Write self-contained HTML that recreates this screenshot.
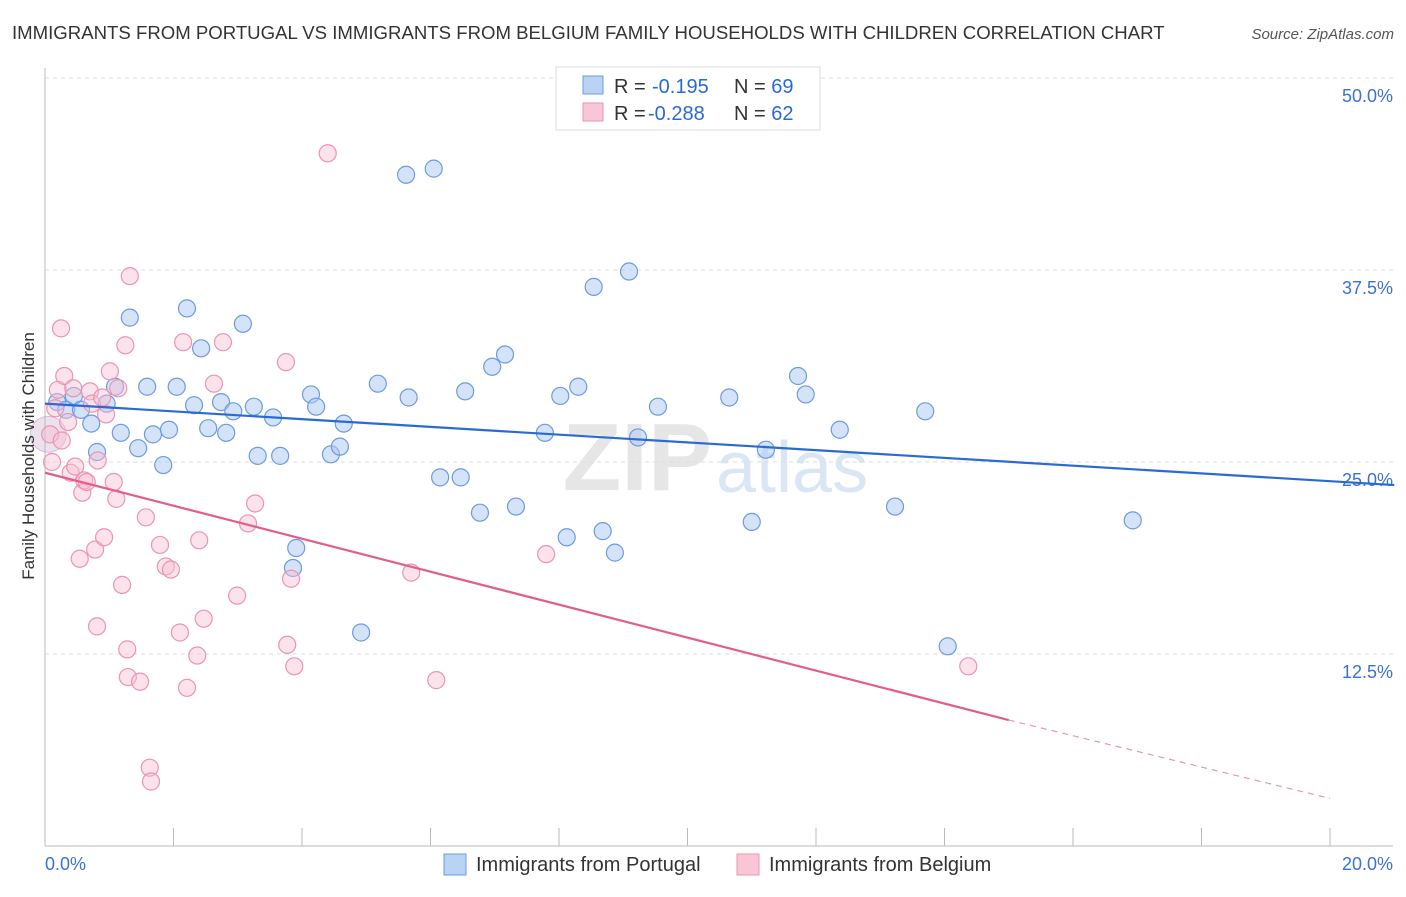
<!DOCTYPE html>
<html><head><meta charset="utf-8"><style>
body{margin:0;background:#fff;font-family:"Liberation Sans",sans-serif}
svg text{font-family:"Liberation Sans",sans-serif}
</style></head><body>
<svg id="c" width="1406" height="892" xmlns="http://www.w3.org/2000/svg">
<text x="12" y="39" font-size="18.6" fill="#333">IMMIGRANTS FROM PORTUGAL VS IMMIGRANTS FROM BELGIUM FAMILY HOUSEHOLDS WITH CHILDREN CORRELATION CHART</text>
<text x="1394" y="39" font-size="15" fill="#555" text-anchor="end" font-style="italic">Source: ZipAtlas.com</text>
<text x="712" y="490" font-size="96" fill="#e6e6e6" text-anchor="end" font-family="Liberation Serif" font-weight="bold">ZIP</text>
<text x="716" y="492" font-size="72" fill="#dbe6f5">atlas</text>
<g id="grid"></g><g id="axes"></g><g id="pts"></g><g id="trend"></g>
<text transform="translate(34,456) rotate(-90)" font-size="17" fill="#333" text-anchor="middle">Family Households with Children</text>
<rect x="556" y="67" width="264" height="63" fill="#fff" stroke="#ddd"/>
<rect x="583" y="76" width="20" height="18" fill="#b9d3f5" stroke="#6c9be0"/>
<rect x="583" y="103" width="20" height="18" fill="#f9c6d6" stroke="#e995b2"/>
<text x="614" y="93" font-size="20" fill="#333">R = <tspan x="652" fill="#2a6ad6">-0.195</tspan><tspan x="734">N = </tspan><tspan fill="#2a6ad6">69</tspan></text>
<text x="614" y="120" font-size="20" fill="#333">R = <tspan x="648" fill="#2a6ad6">-0.288</tspan><tspan x="734">N = </tspan><tspan fill="#2a6ad6">62</tspan></text>
<rect x="444" y="854" width="22" height="21" fill="#b9d3f5" stroke="#6c9be0"/>
<text x="476" y="871" font-size="20" fill="#333">Immigrants from Portugal</text>
<rect x="737" y="854" width="22" height="21" fill="#f9c6d6" stroke="#e995b2"/>
<text x="769" y="871" font-size="20" fill="#333">Immigrants from Belgium</text>
</svg>
<script>
const blueX=[0.19,0.33,0.45,0.56,0.72,0.81,0.96,1.09,1.18,1.32,1.45,1.59,1.68,1.84,1.93,2.05,2.21,2.32,2.43,2.54,2.74,2.82,2.93,3.08,3.25,3.31,3.55,3.66,3.86,3.91,4.14,4.22,4.45,4.59,4.65,4.92,5.18,5.62,5.66,6.05,6.15,6.47,6.54,6.77,6.96,7.16,7.33,7.78,8.02,8.12,8.30,8.54,8.68,8.87,9.09,9.23,9.54,10.65,11.00,11.22,11.72,11.84,12.37,13.23,13.70,14.05,16.93];
const blueY=[28.9,28.4,29.3,28.4,27.5,25.65,28.8,29.9,26.9,34.4,25.9,29.9,26.8,24.8,27.1,29.9,35.0,28.7,32.4,27.2,28.9,26.9,28.3,34.0,28.6,25.4,27.9,25.4,18.1,19.4,29.4,28.6,25.5,26.0,27.5,13.9,30.1,43.7,29.2,44.1,24.0,24.0,29.6,21.7,31.2,32.0,22.1,26.9,29.3,20.1,29.9,36.4,20.5,19.1,37.4,26.6,28.6,29.2,21.1,25.8,30.6,29.4,27.1,22.1,28.3,13.0,21.2];
const pinkX=[0.08,0.11,0.16,0.2,0.25,0.26,0.3,0.36,0.4,0.44,0.47,0.54,0.58,0.61,0.65,0.7,0.73,0.78,0.81,0.82,0.89,0.92,0.95,1.01,1.07,1.11,1.14,1.2,1.25,1.28,1.29,1.32,1.48,1.57,1.63,1.65,1.79,1.88,1.96,2.1,2.15,2.21,2.37,2.4,2.47,2.63,2.77,2.99,3.16,3.27,3.77,3.75,3.83,3.88,4.4,5.7,6.09,7.8,14.37];
const pinkY=[26.8,25.0,28.5,29.7,33.7,26.4,30.6,27.6,24.3,29.8,24.7,18.7,23.0,23.8,23.7,29.6,28.8,19.3,14.3,25.1,29.2,20.1,28.1,30.9,23.7,22.6,29.8,17.0,32.6,12.8,11.0,37.1,10.7,21.4,5.1,4.2,19.6,18.2,18.0,13.9,32.8,10.3,12.4,19.9,14.8,30.1,32.8,16.3,21.0,22.3,13.1,31.5,17.4,11.7,45.1,17.8,10.8,19.0,11.7];
const blueTrend=[[0,28.8],[21,23.5]];
const pinkTrend=[[0,24.3],[15.0,8.2]];
const pinkDash=[[15.0,8.2],[20,3.1]];
const yTicks=[12.5,25,37.5,50];
const xTicks=[0,2,4,6,8,10,12,14,16,18,20];
const X=v=>45+v/20*1285, Y=v=>846-v/12.5*192;
const NS='http://www.w3.org/2000/svg';
function mk(p,t,a){const e=document.createElementNS(NS,t);for(const k in a)e.setAttribute(k,a[k]);p.appendChild(e);return e;}
const g=document.getElementById('grid'),ax=document.getElementById('axes'),pts=document.getElementById('pts'),tr=document.getElementById('trend');
yTicks.forEach(v=>{
 const l=mk(g,'line',{x1:45,x2:1393,y1:Y(v),y2:Y(v),stroke:'#ddd','stroke-dasharray':'4,4'});
 
 
 const t=mk(g,'text',{x:1393,y:Y(v)+24,'font-size':18,fill:'#3a72d0','text-anchor':'end'});t.textContent=v.toFixed(1)+'%';
 
 
});
const a1=mk(ax,'line',{x1:45,x2:45,y1:68,y2:846,stroke:'#bbb'});


const a2=mk(ax,'line',{x1:45,x2:1393,y1:846,y2:846,stroke:'#bbb'});


xTicks.forEach(v=>{
 const l=mk(ax,'line',{x1:X(v),x2:X(v),y1:828,y2:846,stroke:'#bbb'});
 
 
});
[[0,'start',45],[20,'end',1393]].forEach(([v,an,px])=>{
 const t=mk(ax,'text',{x:px,y:870,'font-size':18,fill:'#3a72d0','text-anchor':an});t.textContent=v.toFixed(1)+'%';
 
 
});
const big1=mk(pts,'circle',{cx:X(0.05),cy:Y(26.8),r:18,fill:'rgba(200,170,200,0.35)',stroke:'rgba(180,140,190,0.5)'});


blueX.forEach((x,i)=>{
 const c=mk(pts,'circle',{cx:X(x),cy:Y(blueY[i]),r:8.5,fill:'rgba(170,200,240,0.5)',stroke:'#6c9be0','stroke-width':1.2});
 
 
});
pinkX.forEach((x,i)=>{
 const c=mk(pts,'circle',{cx:X(x),cy:Y(pinkY[i]),r:8.5,fill:'rgba(248,190,210,0.45)',stroke:'#e995b2','stroke-width':1.2});
 
 
});
const b=mk(tr,'line',{x1:X(blueTrend[0][0]),y1:Y(blueTrend[0][1]),x2:X(blueTrend[1][0]),y2:Y(blueTrend[1][1]),stroke:'#2a6ad6','stroke-width':2.2});


const p=mk(tr,'line',{x1:X(pinkTrend[0][0]),y1:Y(pinkTrend[0][1]),x2:X(pinkTrend[1][0]),y2:Y(pinkTrend[1][1]),stroke:'#e35d8c','stroke-width':2.2});


const pd=mk(tr,'line',{x1:X(pinkDash[0][0]),y1:Y(pinkDash[0][1]),x2:X(pinkDash[1][0]),y2:Y(pinkDash[1][1]),stroke:'#e995b2','stroke-width':1.2,'stroke-dasharray':'6,5'});


</script>
</body></html>
